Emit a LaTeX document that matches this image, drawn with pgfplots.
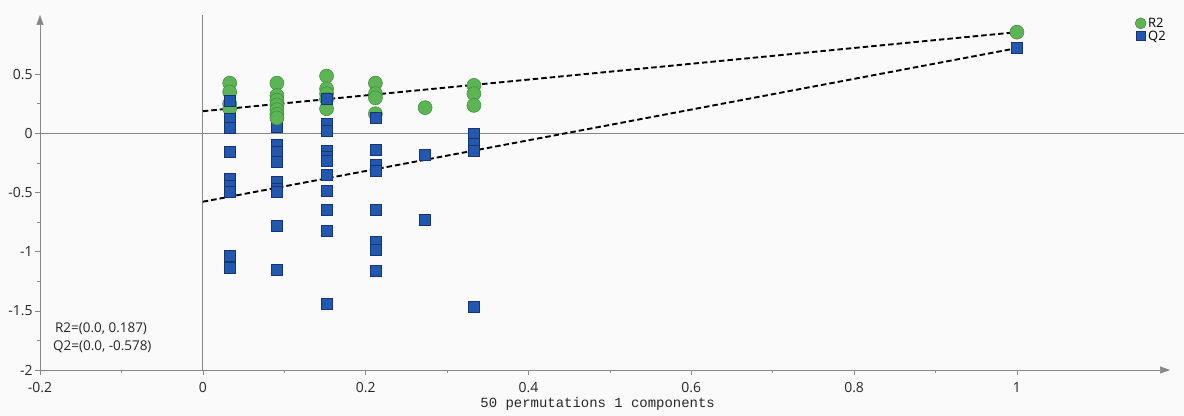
\documentclass[border=0pt]{standalone}
\usepackage{pgfplots}
\pgfplotsset{compat=1.18}
\usepackage{fontspec}
\setmainfont{Open Sans}
\setmonofont{Liberation Mono}
\usetikzlibrary{arrows.meta}
\definecolor{bg}{RGB}{250,250,250}
\definecolor{axgray}{RGB}{135,135,135}
\definecolor{rgreen}{RGB}{92,180,84}
\definecolor{rgreenedge}{RGB}{62,140,58}
\definecolor{qblue}{RGB}{34,88,176}
\definecolor{qblueedge}{RGB}{22,52,112}
\begin{document}
\begin{tikzpicture}
\path[use as bounding box, fill=bg] (-40bp,-46bp) rectangle (1144bp,370bp);
\begin{axis}[
  scale only axis, width=1130bp, height=355bp,
  xmin=-0.2, xmax=1.188, ymin=-2, ymax=1.0,
  axis lines=left,
  axis line style={axgray, line width=0.7pt},
  x axis line style={-{Triangle[length=10bp,width=7bp]}},
  y axis line style={-{Triangle[length=10bp,width=7bp]}},
  xtick={-0.2,0,0.2,0.4,0.6,0.8,1},
  ytick={-2,-1.5,-1,-0.5,0,0.5},
  minor x tick num=1, minor y tick num=1,
  tick align=outside,
  major tick length=5bp, minor tick length=3bp,
  tick style={axgray, line width=0.6pt},
  ticklabel style={font=\fontsize{14}{16}\selectfont, text=black!85},
  yticklabel style={xshift=1bp},
  xticklabel style={yshift=-4bp},
  /pgf/number format/assume math mode=true,
  clip=false,
  legend style={draw=none, fill=none, at={(rel axis cs:0.969,0.998)}, anchor=north west,
    font=\fontsize{13}{14}\selectfont, inner sep=0pt, row sep=-2bp,
    /tikz/every even column/.append style={column sep=1bp}},
  legend cell align=left,
  legend image code/.code={\draw[#1] plot coordinates {(0bp,0bp)};},
]
\draw[axgray, line width=0.7pt] (axis cs:0,-2) -- (axis cs:0,1.0);
\draw[axgray, line width=0.7pt] (axis cs:-0.2,0) -- (axis cs:1.205,0);

\addplot[only marks, mark=square*, mark size=5.5bp, mark options={fill=qblue, draw=qblueedge, line width=0.5pt},
  forget plot] coordinates {
(0.033,0.20) (0.091,0.053)
};
\addplot[only marks, mark=*, mark size=7bp, mark options={fill=rgreen, draw=rgreenedge, line width=0.5pt},
  legend image post style={mark size=5.5bp}] coordinates {
(0.033,0.424) (0.033,0.349) (0.033,0.25) (0.033,0.21)
(0.091,0.424) (0.091,0.32) (0.091,0.28) (0.091,0.24) (0.091,0.20) (0.091,0.16) (0.091,0.13)
(0.152,0.484) (0.152,0.377) (0.152,0.335) (0.152,0.29) (0.152,0.208)
(0.212,0.424) (0.212,0.335) (0.212,0.30) (0.212,0.166)
(0.273,0.217)
(0.333,0.405) (0.333,0.335) (0.333,0.236)
(1,0.855)
};
\addlegendentry{R2}
\addplot[only marks, mark=square*, mark size=5.5bp, mark options={fill=qblue, draw=qblueedge, line width=0.5pt},
  legend image post style={mark size=4.5bp}] coordinates {
(0.033,0.278) (0.033,0.127)
(0.033,0.05) (0.033,-0.158) (0.033,-0.383) (0.033,-0.439) (0.033,-0.49) (0.033,-1.038) (0.033,-1.134)
(0.091,-0.10) (0.091,-0.158) (0.091,-0.242) (0.091,-0.41) (0.091,-0.467) (0.091,-0.495) (0.091,-0.78) (0.091,-1.15)
(0.152,0.293) (0.152,0.082) (0.152,0.025) (0.152,-0.143) (0.152,-0.2) (0.152,-0.228) (0.152,-0.346) (0.152,-0.481) (0.152,-0.644) (0.152,-0.824) (0.152,-1.437)
(0.212,0.132) (0.212,-0.138) (0.212,-0.262) (0.212,-0.312) (0.212,-0.644) (0.212,-0.917) (0.212,-0.987) (0.212,-1.165)
(0.273,-0.18) (0.273,-0.728)
(0.333,-0.003) (0.333,-0.087) (0.333,-0.143) (0.333,-1.466)
(1,0.72)
};
\addlegendentry{Q2}
\addplot[forget plot, black, line width=1.9bp, dash pattern=on 5.5bp off 3bp] coordinates {(0,0.187) (1,0.855)};
\addplot[forget plot, black, line width=1.9bp, dash pattern=on 5.5bp off 3bp] coordinates {(0,-0.578) (1,0.72)};

\node[anchor=west, font=\fontsize{13.5}{15}\selectfont, text=black!85, inner sep=0pt] at (axis cs:-0.1816,-1.654) {R2=(0.0, 0.187)};
\node[anchor=west, font=\fontsize{13.5}{15}\selectfont, text=black!85, inner sep=0pt] at (axis cs:-0.184,-1.806) {Q2=(0.0, -0.578)};
\node[anchor=base, font=\fontsize{14}{16}\ttfamily, text=black!85, inner sep=0pt] at ([yshift=-37bp]axis cs:0.485,-2) {50 permutations 1 components};
\end{axis}
\end{tikzpicture}
\end{document}
